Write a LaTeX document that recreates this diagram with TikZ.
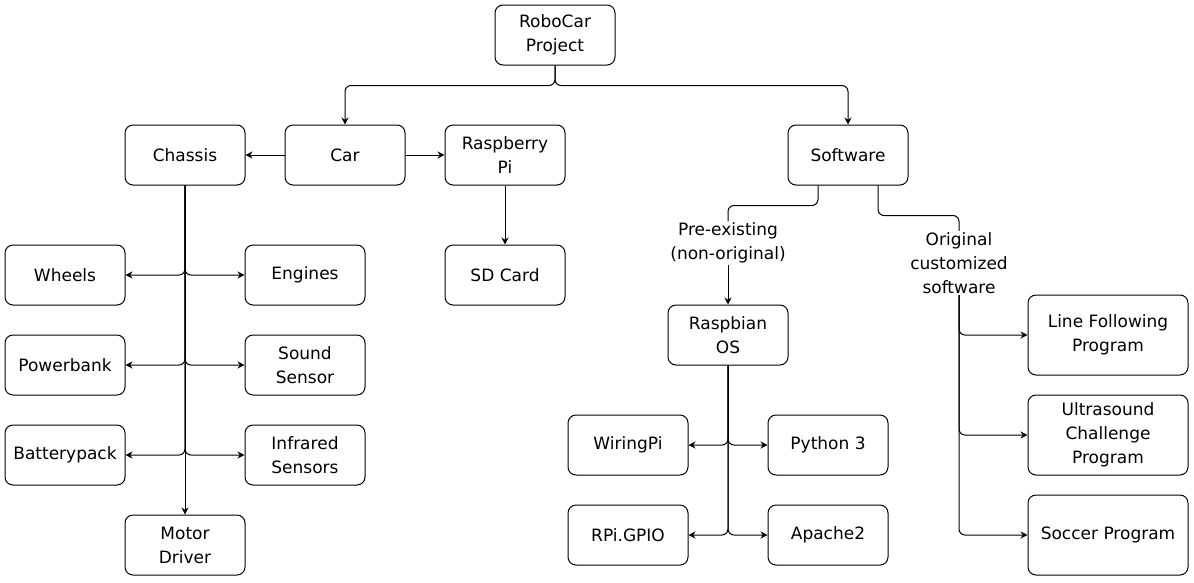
\documentclass[tikz,border=0pt]{standalone}
\usepackage{fontspec}
\setmainfont{DejaVu Sans}
\usetikzlibrary{arrows.meta,calc}

\begin{document}
\begin{tikzpicture}[x=1pt, y=-1pt, line width=1pt,
  box/.style={draw, rounded corners=8pt, minimum width=120pt, minimum height=60pt, align=center, inner sep=2pt},
  widebox/.style={box, minimum width=160pt, minimum height=80pt},
  lbl/.style={fill=white, align=center, inner sep=1pt},
  arr/.style={-{Stealth[length=7pt,width=7pt]}, rounded corners=6pt},
  every node/.style={font=\fontsize{17}{24}\selectfont}]
\useasboundingbox (0,0) rectangle (1194,582);

\node[box] (robo) at (555,35) {RoboCar\\Project};
\node[box] (chassis) at (185,155) {Chassis};
\node[box] (car) at (345,155) {Car};
\node[box] (rpi) at (505,155) {Raspberry\\Pi};
\node[box] (soft) at (848,155) {Software};

\node[box] (wheels) at (65,275) {Wheels};
\node[box] (engines) at (305,275) {Engines};
\node[box] (powerbank) at (65,365) {Powerbank};
\node[box] (sound) at (305,365) {Sound\\Sensor};
\node[box] (battery) at (65,455) {Batterypack};
\node[box] (infrared) at (305,455) {Infrared\\Sensors};
\node[box] (motor) at (185,545) {Motor\\Driver};
\node[box] (sdcard) at (505,275) {SD Card};

\node[lbl] (pre) at (728,243) {Pre-existing\\(non-original)};
\node[lbl] (orig) at (959,263) {Original\\customized\\software};
\node[box] (raspbian) at (728,335) {Raspbian\\OS};
\node[box] (wiring) at (628,445) {WiringPi};
\node[box] (python) at (828,445) {Python 3};
\node[box] (gpio) at (628,535) {RPi.GPIO};
\node[box] (apache) at (828,535) {Apache2};

\node[widebox] (linefollow) at (1108,335) {Line Following\\Program};
\node[widebox] (ultra) at (1108,435) {Ultrasound\\Challenge\\Program};
\node[widebox] (soccer) at (1108,535) {Soccer Program};

% top level
\draw[arr] (robo.south) -- ++(0,20) -| (car.north);
\draw[arr] (robo.south) -- ++(0,20) -| (soft.north);
\draw[arr] (car.west) -- (chassis.east);
\draw[arr] (car.east) -- (rpi.west);
\draw[arr] (rpi.south) -- (sdcard.north);

% chassis parts
\draw[arr] (chassis.south) |- (wheels.east);
\draw[arr] (chassis.south) |- (engines.west);
\draw[arr] (chassis.south) |- (powerbank.east);
\draw[arr] (chassis.south) |- (sound.west);
\draw[arr] (chassis.south) |- (battery.east);
\draw[arr] (chassis.south) |- (infrared.west);
\draw[arr] (chassis.south) -- (motor.north);

% software
\draw[rounded corners=6pt] ($(soft.south)+(-30,0)$) -- ++(0,20) -| (pre.north);
\draw[arr] (pre.south) -- (raspbian.north);
\draw[rounded corners=6pt] ($(soft.south)+(30,0)$) -- ++(0,30) -| (orig.north);
\draw[arr] (orig.south) |- (linefollow.west);
\draw[arr] (orig.south) |- (ultra.west);
\draw[arr] (orig.south) |- (soccer.west);

\draw[arr] (raspbian.south) |- (wiring.east);
\draw[arr] (raspbian.south) |- (python.west);
\draw[arr] (raspbian.south) |- (gpio.east);
\draw[arr] (raspbian.south) |- (apache.west);
\end{tikzpicture}
\end{document}
